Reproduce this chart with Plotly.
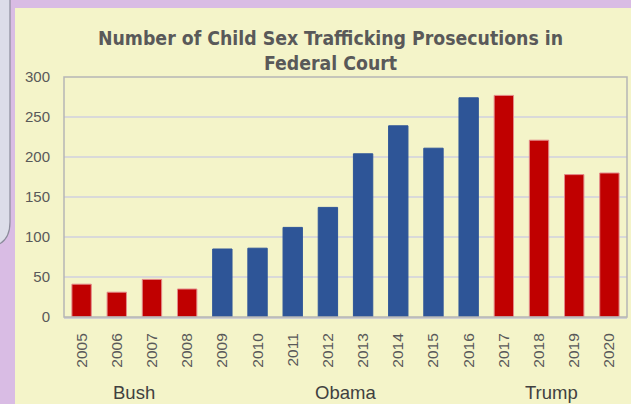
import plotly.graph_objects as go

# ---- data ----
years = ["2005", "2006", "2007", "2008", "2009", "2010", "2011", "2012",
         "2013", "2014", "2015", "2016", "2017", "2018", "2019", "2020"]
prosecutions = [41, 31, 47, 35, 85, 86, 112, 137, 204, 239, 211, 274, 277, 221, 178, 180]
administration = ["Bush"] * 4 + ["Obama"] * 8 + ["Trump"] * 4
admin_names = ["Bush", "Obama", "Trump"]
y_ticks = [0, 50, 100, 150, 200, 250, 300]

admin_color = {"Bush": "#c00000", "Obama": "#2e5597", "Trump": "#c00000"}
admin_edge = {"Bush": "#e38a8a", "Obama": "#2e5597", "Trump": "#e38a8a"}

W, H = 631, 404
ML, MR, MT, MB = 64, 4, 77, 87
PW, PH = W - ML - MR, H - MT - MB


def px(x):
    return (x - ML) / PW


def py(y):
    return (H - MB - y) / PH


fig = go.Figure()
fig.add_trace(go.Bar(
    x=years,
    y=prosecutions,
    marker=dict(color=[admin_color[a] for a in administration],
                line=dict(color=[admin_edge[a] for a in administration], width=1)),
    hoverinfo="x+y",
))

shapes = [
    # cream panel
    dict(type="rect", xref="paper", yref="paper", x0=px(15), x1=px(633), y0=py(8), y1=py(406),
         fillcolor="#f4f4c9", line=dict(width=0), layer="below"),
    # grey rounded box at top-left
    dict(type="path", xref="paper", yref="paper",
         path=(f"M {px(-5)},{py(-5)} L {px(10)},{py(-5)} L {px(10)},{py(222)} "
               f"Q {px(10)},{py(242)} {px(-6)},{py(246)} Z"),
         fillcolor="#dcdde9", line=dict(color="#8c8c9c", width=1.2), layer="below"),
    # plot frame
    dict(type="rect", xref="paper", yref="paper", x0=0, x1=1, y0=0, y1=1,
         line=dict(color="#b5b5b5", width=1.5), fillcolor="rgba(0,0,0,0)", layer="above"),
]

annotations = [
    dict(text="<b>Number of Child Sex Trafficking Prosecutions in<br>Federal Court</b>",
         xref="paper", yref="paper", x=px(330), y=py(51), xanchor="center", yanchor="middle",
         showarrow=False, align="center",
         font=dict(family="Liberation Sans Narrow, Arial Narrow, DejaVu Sans Condensed, sans-serif",
                   size=19.3, color="#595959")),
]
for name in admin_names:
    idx = [i for i, a in enumerate(administration) if a == name]
    center = (idx[0] + idx[-1]) / 2
    if name == "Trump":
        center -= 0.15
    annotations.append(dict(
        text=name, xref="x", yref="paper", x=center, y=py(392.5),
        xanchor="center", yanchor="middle", showarrow=False,
        font=dict(family="Liberation Sans, Arial, sans-serif", size=18.5, color="#404040")))

fig.update_layout(
    width=W, height=H,
    margin=dict(l=ML, r=MR, t=MT, b=MB, pad=0),
    paper_bgcolor="#d9bce4",
    plot_bgcolor="#f2f1df",
    bargap=0.45,
    showlegend=False,
    shapes=shapes,
    annotations=annotations,
    font=dict(family="Liberation Sans, Arial, sans-serif", color="#595959"),
)
fig.update_xaxes(
    type="category", tickangle=-90, tickfont=dict(size=15.5, color="#595959"),
    showgrid=False, showline=True, linecolor="#d0d0d0", linewidth=2,
    ticks="", ticklabelstandoff=8,
)
fig.update_yaxes(
    range=[0, 300], tickvals=y_ticks, tickfont=dict(size=15, color="#595959"),
    showgrid=True, gridcolor="#d9d9d9", gridwidth=1.5, zeroline=False,
    showline=False, ticks="", ticklabelstandoff=13,
)

fig.write_html("out.html")
